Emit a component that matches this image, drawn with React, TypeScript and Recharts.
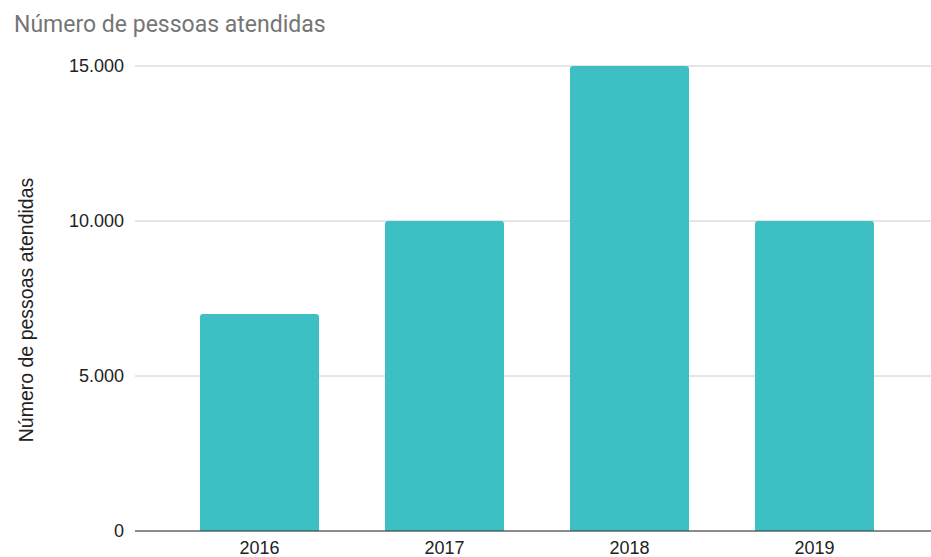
import { Bar, BarChart, CartesianGrid, XAxis, YAxis } from 'recharts'

const anos = ['2016', '2017', '2018', '2019']
const pessoas = [7000, 10000, 15000, 10000]
const yTicks = [0, 5000, 10000, 15000]

const data = anos.map((ano, i) => ({ ano, pessoas: pessoas[i] }))

const TICK = { fontSize: 18, fill: '#222222', fontFamily: 'Arial, "Liberation Sans", sans-serif' }
const BAR_COLOR = '#3dc0c3'

const fmtMil = (v: number) => (v === 0 ? '0' : v.toLocaleString('pt-BR'))

export default function App() {
  return (
    <div style={{ position: 'absolute', left: 0, top: 0, width: 931, height: 557, background: '#fff' }}>
      <style>{'body{margin:0}'}</style>
      <div
        style={{
          position: 'absolute',
          left: 14,
          top: 11,
          fontFamily: 'Roboto, sans-serif',
          fontSize: 23,
          color: '#757575',
          whiteSpace: 'nowrap',
        }}
      >
        Número de pessoas atendidas
      </div>
      <div
        style={{
          position: 'absolute',
          left: 26,
          top: 310,
          transform: 'translate(-50%, -50%) rotate(-90deg)',
          fontFamily: 'Arial, "Liberation Sans", sans-serif',
          fontSize: 19.5,
          color: '#222222',
          whiteSpace: 'nowrap',
        }}
      >
        Número de pessoas atendidas
      </div>
      <BarChart
        width={931}
        height={557}
        data={data}
        margin={{ top: 66, right: 0, left: 0, bottom: 0 }}
        barSize={119}
      >
        <CartesianGrid stroke="#cccccc" vertical={false} />
        <XAxis
          dataKey="ano"
          height={26}
          padding={{ left: 32, right: 24 }}
          tick={TICK}
          tickLine={false}
          tickSize={0}
          tickMargin={10}
          axisLine={{ stroke: '#333333' }}
        />
        <YAxis
          width={135}
          domain={[0, 15000]}
          ticks={yTicks}
          tickFormatter={fmtMil}
          tick={TICK}
          tickLine={false}
          tickSize={0}
          tickMargin={11}
          axisLine={false}
        />
        <Bar dataKey="pessoas" fill={BAR_COLOR} radius={[3, 3, 0, 0]} isAnimationActive={false} />
      </BarChart>
    </div>
  )
}
